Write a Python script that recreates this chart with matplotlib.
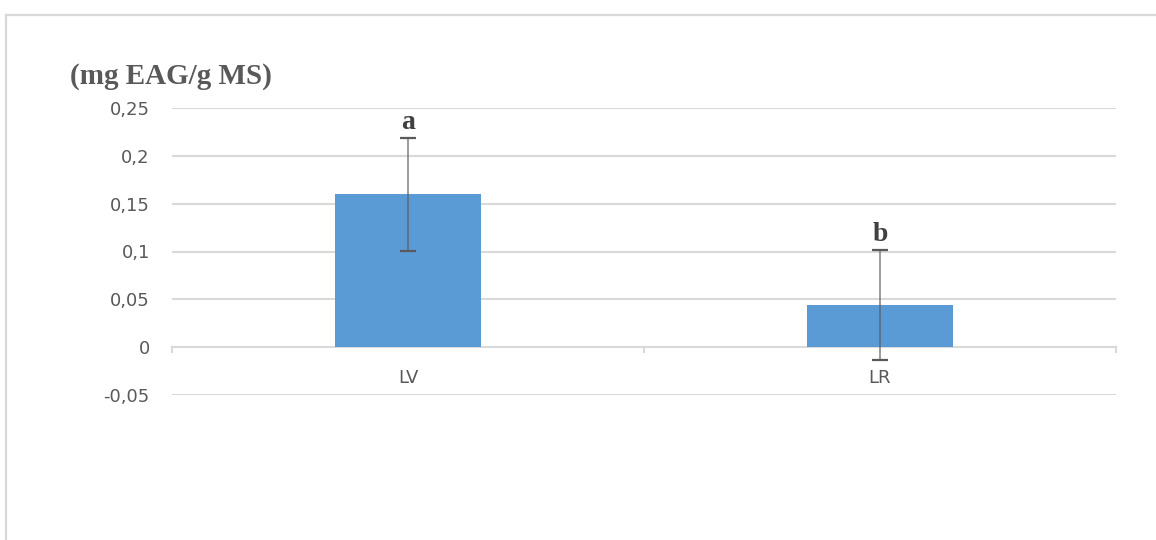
import matplotlib
matplotlib.use("Agg")
import matplotlib.pyplot as plt
from matplotlib.lines import Line2D

# Total phenolic content per extract
categories = ["LV", "LR"]
values = [0.160, 0.0437]
errors = [0.059, 0.0575]
letters = ["a", "b"]
yticks = [-0.05, 0, 0.05, 0.1, 0.15, 0.2, 0.25]
ytick_labels = ["-0,05", "0", "0,05", "0,1", "0,15", "0,2", "0,25"]

grid_c = "#d9d9d9"
text_c = "#595959"
bar_c = "#5b9bd5"

fig = plt.figure(figsize=(11.56, 5.4), dpi=100)

# chart frame (top and left edges)
fig.add_artist(Line2D([6 / 1156, 1.0], [1 - 15 / 540] * 2, color=grid_c, lw=1.6,
                      transform=fig.transFigure))
fig.add_artist(Line2D([6 / 1156] * 2, [0.0, 1 - 15 / 540], color=grid_c, lw=1.6,
                      transform=fig.transFigure))

ax = fig.add_axes([172 / 1156, 1 - 395 / 540, 944 / 1156, 287 / 540])
x = list(range(len(categories)))
ax.bar(x, values, width=0.311, color=bar_c, zorder=2)

# error bars: light stem, dark caps
eb = ax.errorbar(x, values, yerr=errors, fmt="none", ecolor=text_c, elinewidth=1.4,
                 capsize=6, capthick=1.6, zorder=3)
for lc in eb.lines[2]:
    lc.set_alpha(0.6)

for xi, v, e, s in zip(x, values, errors, letters):
    ax.text(xi, v + e + 0.003, s, ha="center", va="bottom", fontsize=20,
            fontweight="bold", family="Liberation Serif", color="#404040")

ax.set_xlim(-0.5, 1.5)
ax.set_ylim(-0.05, 0.25)
ax.set_yticks(yticks)
ax.set_yticklabels(ytick_labels)
for t in yticks:
    if t != 0:
        ax.axhline(t, color=grid_c, lw=1.5, zorder=0)
ax.axhline(0, color=grid_c, lw=1.5, zorder=1)

# category axis at zero with small downward tick marks
for tx in [-0.5, 0.5, 1.5]:
    ax.plot([tx, tx], [0, -0.005], color=grid_c, lw=1.5, clip_on=False, zorder=1)

ax.set_xticks([])
for xi, c in zip(x, categories):
    ax.text(xi, -0.032, c, ha="center", va="center", fontsize=13,
            family="DejaVu Sans", color=text_c)

for sp in ax.spines.values():
    sp.set_visible(False)
ax.tick_params(axis="y", length=0, pad=16, labelsize=13, labelcolor=text_c)
for lab in ax.get_yticklabels():
    lab.set_family("DejaVu Sans")

fig.text(70 / 1156, 1 - 77 / 540, "(mg EAG/g MS)", ha="left", va="center",
         fontsize=21, fontweight="bold", family="Liberation Serif", color=text_c)

fig.savefig("out.png", dpi=100, facecolor="white")
